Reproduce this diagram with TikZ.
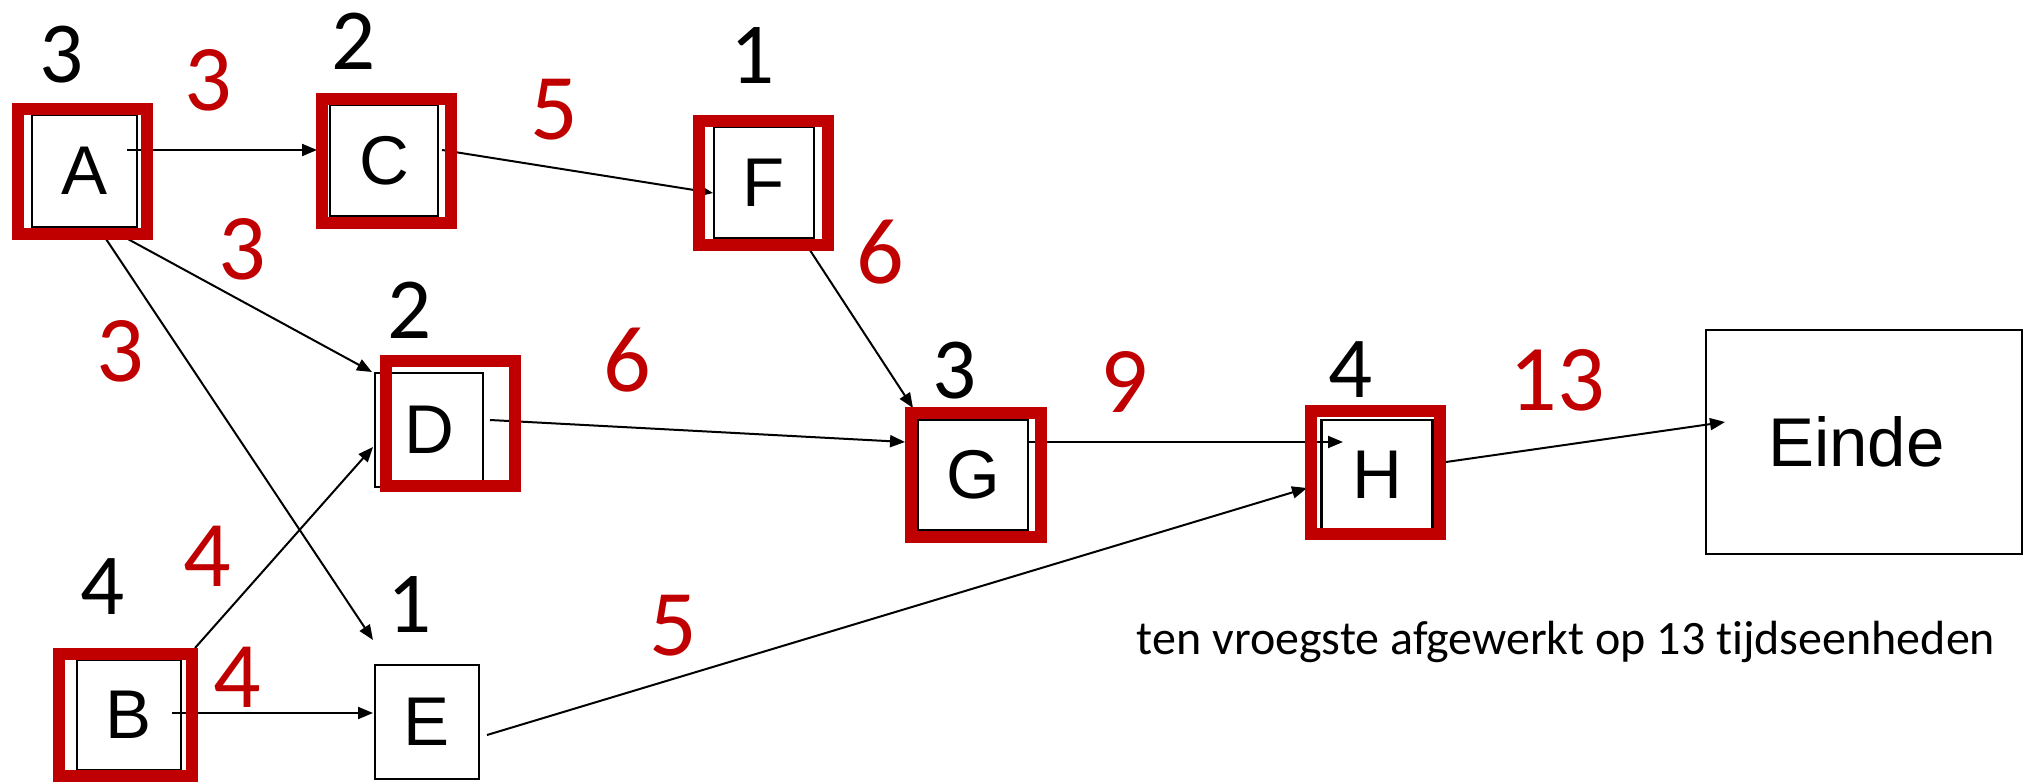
\documentclass[tikz,border=0pt]{standalone}
\usepackage{fontspec}
\setmainfont{Carlito}[Ligatures=NoCommon]
\newfontfamily\arialf{Liberation Sans}
\usetikzlibrary{arrows.meta}
\definecolor{hl}{RGB}{192,0,0}
\begin{document}
\begin{tikzpicture}[x=1pt,y=-1pt,
  box/.style={draw=black,line width=2.2pt,fill=white,inner sep=0pt,
    font=\arialf\fontsize{69}{80}\selectfont},
  arr/.style={line width=2pt,-{Triangle[length=15pt,width=12pt]}},
  hlbox/.style={draw=hl,line width=12pt},
  blk/.style={font=\fontsize{87}{100}\selectfont,inner sep=0pt},
  rednum/.style={text=hl,font=\fontsize{94}{110}\selectfont,inner sep=0pt},
  note/.style={font=\fontsize{48}{58}\selectfont,inner sep=0pt}
]
\useasboundingbox (0,0) rectangle (2029,783);
% activity boxes
\node[box,minimum width=105pt,minimum height=112pt] (A) at (84.5,171) {A};
\node[box,minimum width=108pt,minimum height=111pt] (C) at (384,160.5) {C};
\node[box,minimum width=100pt,minimum height=111pt] (F) at (764,182.5) {F};
\node[box,minimum width=108pt,minimum height=114pt] (D) at (429,430) {D};
\node[box,minimum width=110pt,minimum height=110pt] (G) at (973,475) {G};
\node[box,minimum width=111pt,minimum height=110pt] (H) at (1377,475) {H};
\node[box,minimum width=104pt,minimum height=110pt] (B) at (129,715) {B};
\node[box,minimum width=104pt,minimum height=114pt] (E) at (427,722) {E};
\node[box,minimum width=316pt,minimum height=224pt,text width=296pt,align=left] (Einde) at (1864,442) {\hspace*{52pt}Einde};
% connectors
\draw[arr] ([xshift=42.5pt,yshift=21pt]A.center) -- ([xshift=-67pt,yshift=10.5pt]C.center);
\draw[arr] ([xshift=58pt,yshift=10.5pt]C.center) -- ([xshift=-51pt,yshift=-10.5pt]F.center);
\draw[arr] ([xshift=41.5pt,yshift=-67pt]A.center) -- ([xshift=-57pt,yshift=58pt]D.center);
\draw[arr] ([xshift=19.5pt,yshift=-65pt]A.center) -- ([xshift=-54pt,yshift=82pt]E.center);
\draw[arr] ([xshift=66pt,yshift=67pt]B.center) -- ([xshift=-56pt,yshift=-17pt]D.center);
\draw[arr] ([xshift=43pt,yshift=2pt]B.center) -- ([xshift=-54pt,yshift=9pt]E.center);
\draw[arr] ([xshift=61pt,yshift=10pt]D.center) -- ([xshift=-68pt,yshift=33pt]G.center);
\draw[arr] ([xshift=38pt,yshift=-55.5pt]F.center) -- ([xshift=-60pt,yshift=67pt]G.center);
\draw[arr] ([xshift=55pt,yshift=33pt]G.center) -- ([xshift=-34pt,yshift=33pt]H.center);
\draw[arr] ([xshift=60pt,yshift=-13pt]E.center) -- ([xshift=-70pt,yshift=-13pt]H.center);
\draw[arr] ([xshift=69pt,yshift=13pt]H.center) -- ([xshift=-139pt,yshift=20pt]Einde.center);
% critical path highlights
\draw[hlbox] (18,109) rectangle (147,234);
\draw[hlbox] (322,99) rectangle (451,223);
\draw[hlbox] (699,121) rectangle (828,245);
\draw[hlbox] (386,361) rectangle (515,486);
\draw[hlbox] (911,413) rectangle (1041,537);
\draw[hlbox] (1311,411) rectangle (1440,534);
\draw[hlbox] (59,654) rectangle (192,776);
% durations
\node[blk] (dA) at (62,55) {3};
\node[blk] (dC) at (354,41) {2};
\node[blk] (dF) at (753,56) {1};
\node[blk] (dD) at (410,310) {2};
\node[blk] (dG) at (955,371) {3};
\node[blk] (dH) at (1351,370) {4};
\node[blk] (dB) at (103,587) {4};
\node[blk] (dE) at (410,605) {1};
% earliest times
\node[rednum] (tAC) at (208,80) {3};
\node[rednum] (tCF) at (554,110) {5};
\node[rednum] (tFG) at (880,252) {6};
\node[rednum] (tAD) at (242,249) {3};
\node[rednum] (tAE) at (120,351) {3};
\node[rednum] (tDG) at (627,360) {6};
\node[rednum] (tGH) at (1124,382) {9};
\node[rednum] (tHE) at (1557,380) {13};
\node[rednum] (tBD) at (207,556) {4};
\node[rednum] (tBE) at (237,677) {4};
\node[rednum] (tEH) at (673,626) {5};
\node[note] (txt) at (1566,642) {ten vroegste afgewerkt op 13 tijdseenheden};
\end{tikzpicture}
\end{document}
